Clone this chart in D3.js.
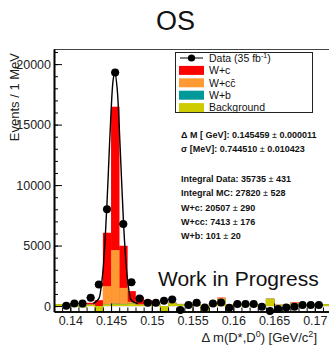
<!DOCTYPE html>
<html>
<head>
<meta charset="utf-8">
<script src="https://cdn.jsdelivr.net/npm/d3@7"></script>
<style>
   body { margin: 0; background: #fff; }
   svg { display: block; font-family: "Liberation Sans", Arial, Helvetica, sans-serif; }
</style>
</head>
<body>
<div class="visHolder"></div>
<script>
// bin centres of the 1 MeV histogram (GeV)
const binCenters = [0.1385, 0.1395, 0.1405, 0.1415, 0.1425, 0.1435, 0.1445, 0.1455, 0.1465, 0.1475,
   0.1485, 0.1495, 0.1505, 0.1515, 0.1525, 0.1535, 0.1545, 0.1555, 0.1565, 0.1575,
   0.1585, 0.1595, 0.1605, 0.1615, 0.1625, 0.1635, 0.1645, 0.1655, 0.1665, 0.1675,
   0.1685, 0.1695, 0.1705, 0.1715, 0.1725];

// stacked MC components, same bins
const background = [150, 150, 100, -100, 120, -500, 150, 150, 150, 200,
   100, 150, 150, -500, 250, 150, 50, 150, -420, 150,
   550, 100, 150, 150, 150, 100, 600, 100, 100, 220,
   100, 150, 150, 150, 150];
const wb = [0, 0, 0, 0, 0, 5, 20, 40, 25, 5,
   0, 0, 0, 0, 0, 0, 0, 0, 0, 0,
   0, 0, 0, 0, 0, 0, 0, 0, 0, 0,
   0, 0, 0, 0, 0];
const wcc = [0, 0, 0, 0, 0, 80, 1480, 4440, 1330, 150,
   50, 30, 0, 0, 0, 0, 0, 0, 0, 0,
   120, 0, 0, 0, 0, 0, 0, 0, 0, 60,
   0, 0, 0, 0, 0];
const wc = [0, 0, 0, 20, 150, 900, 4410, 11850, 3480, 880,
   620, 320, 150, 100, 40, 30, 10, 10, 10, 10,
   30, 10, 10, 10, 10, 10, 10, 10, 10, 30,
   10, 10, 10, 10, 10];

// data points (null where no marker)
const dataValues = [null, 30, 220, 220, 690, 1780, 8000, 19300, 6780, 1960,
   630, 270, 270, 440, 550, -330, 80, 270, -110, 220,
   300, -140, 165, 165, 165, -55, -410, -250, -110, -55,
   80, 80, 80, null, null];

// fitted curve
const fitX = [0.1428, 0.1435, 0.14375, 0.144, 0.14425, 0.1445, 0.14475, 0.145, 0.14525, 0.14546,
   0.14575, 0.146, 0.14625, 0.1465, 0.14675, 0.147, 0.14725, 0.1475, 0.1483];
const fitY = [200, 620, 1400, 2850, 5200, 8470, 12330, 16050, 18650, 19400,
   17970, 14900, 11040, 7310, 4330, 2290, 1080, 460, 200];

const legendLabels = ["Data (35 fb", "W+c", "W+cc\u0304", "W+b", "Background"];
const stackColors = ["#cccc00", "#009999", "#ff9933", "#ff0000"]; // background, W+b, W+cc, W+c
const legendColors = [null, "#ff0000", "#ff9933", "#009999", "#cccc00"];

const statLines = [
   ["\u0394 M [ GeV]: 0.145459", "0.000011"],
   ["\u03c3 [MeV]: 0.744510", "0.010423"],
   ["Integral Data: 35735", "431"],
   ["Integral MC: 27820", "528"],
   ["W+c: 20507", "290"],
   ["W+cc: 7413", "176"],
   ["W+b: 101", "20"]
];

const xTicks = [0.14, 0.145, 0.15, 0.155, 0.16, 0.165, 0.17];
const xMinorTicks = d3.range(138, 174).map(d => d / 1000);
const yTicks = [0, 5000, 10000, 15000, 20000];
const yMinorTicks = d3.range(0, 22000, 1000);

const fullWidth = 329;
const fullHeight = 345;
const plotLeft = 54;
const plotRight = 339.25;
const plotTop = 49;
const plotBottom = 311.5;
const halfBin = 0.0005;

const svg = d3.select(".visHolder")
   .append("svg")
   .attr("width", fullWidth)
   .attr("height", fullHeight);

const xScale = d3.scaleLinear()
   .domain([0.138, 0.173])
   .range([plotLeft, plotRight]);
const yScale = d3.scaleLinear()
   .domain([-450, 21250])
   .range([plotBottom, plotTop]);

svg.append("clipPath")
   .attr("id", "plotClip")
   .append("rect")
   .attr("x", plotLeft)
   .attr("y", plotTop)
   .attr("width", plotRight - plotLeft)
   .attr("height", plotBottom - plotTop);

const plot = svg.append("g").attr("clip-path", "url(#plotClip)");

// cumulative stack, drawn from the top sum down like THStack
const components = [background, wb, wcc, wc];
const cumulative = [];
components.forEach((comp, k) => {
   cumulative.push(comp.map((v, i) => v + (k > 0 ? cumulative[k - 1][i] : 0)));
});

for (let k = components.length - 1; k >= 0; k--) {
   plot.append("g")
      .selectAll("rect")
      .data(cumulative[k])
      .enter()
      .append("rect")
      .attr("x", (d, i) => xScale(binCenters[i] - halfBin))
      .attr("width", (d, i) => xScale(binCenters[i] + halfBin) - xScale(binCenters[i] - halfBin) + 0.3)
      .attr("y", d => Math.min(yScale(0), yScale(d)))
      .attr("height", d => Math.abs(yScale(0) - yScale(d)))
      .attr("fill", stackColors[k]);
}

// fit
const fitLine = d3.line()
   .x((d, i) => xScale(fitX[i]))
   .y(d => yScale(d))
   .curve(d3.curveCatmullRom.alpha(0.5));
plot.append("path")
   .attr("d", fitLine(fitY))
   .attr("fill", "none")
   .attr("stroke", "black")
   .attr("stroke-width", 1.4);

// data points
const points = binCenters.map((c, i) => ({ c: c, v: dataValues[i] })).filter(d => d.v !== null);
svg.append("g")
   .selectAll("line")
   .data(points)
   .enter()
   .append("line")
   .attr("x1", d => xScale(d.c - halfBin))
   .attr("x2", d => xScale(d.c + halfBin))
   .attr("y1", d => yScale(d.v))
   .attr("y2", d => yScale(d.v))
   .attr("stroke", "black")
   .attr("stroke-width", 1);
svg.append("g")
   .selectAll("circle")
   .data(points)
   .enter()
   .append("circle")
   .attr("cx", d => xScale(d.c))
   .attr("cy", d => yScale(d.v))
   .attr("r", 4)
   .attr("fill", "black");

// frame top
svg.append("line")
   .attr("x1", plotLeft)
   .attr("x2", fullWidth)
   .attr("y1", plotTop + 0.5)
   .attr("y2", plotTop + 0.5)
   .attr("stroke", "#444")
   .attr("stroke-width", 1);

// axes
const xMinor = d3.axisBottom(xScale).tickValues(xMinorTicks).tickSizeInner(-4).tickSizeOuter(0).tickFormat("");
const xAxis = d3.axisBottom(xScale).tickValues(xTicks).tickSizeInner(-8).tickSizeOuter(0).tickPadding(5)
   .tickFormat(d => String(+d.toFixed(3)));
const yMinor = d3.axisLeft(yScale).tickValues(yMinorTicks).tickSizeInner(-4).tickSizeOuter(0).tickFormat("");
const yAxis = d3.axisLeft(yScale).tickValues(yTicks).tickSizeInner(-8).tickSizeOuter(0).tickPadding(3)
   .tickFormat(d3.format("d"));

svg.append("g").attr("transform", "translate(0," + plotBottom + ")").call(xMinor);
const gx = svg.append("g").attr("transform", "translate(0," + plotBottom + ")").call(xAxis);
svg.append("g").attr("transform", "translate(" + plotLeft + ",0)").call(yMinor);
const gy = svg.append("g").attr("transform", "translate(" + plotLeft + ",0)").call(yAxis);

svg.selectAll(".domain").attr("stroke", "black").attr("stroke-width", 1.6);
svg.selectAll(".tick line").attr("stroke", "black").attr("stroke-width", 1);
[gx, gy].forEach(g => g.selectAll("text")
   .attr("fill", "#222")
   .style("font-size", "12.5px")
   .style("font-family", "'Liberation Sans', Arial, sans-serif"));

// title and axis titles
svg.append("text")
   .attr("x", 175.5)
   .attr("y", 30)
   .attr("text-anchor", "middle")
   .style("font-size", "27px")
   .attr("fill", "#111")
   .text("OS");

svg.append("text")
   .attr("transform", "translate(19,53) rotate(-90)")
   .attr("text-anchor", "end")
   .style("font-size", "13px")
   .attr("fill", "#222")
   .text("Events / 1 MeV");

const xTitle = svg.append("text")
   .attr("x", 317)
   .attr("y", 342)
   .attr("text-anchor", "end")
   .style("font-size", "13px")
   .attr("fill", "#222");
xTitle.append("tspan").text("\u0394 m(D*,D");
xTitle.append("tspan").attr("dy", -5).style("font-size", "9px").text("0");
xTitle.append("tspan").attr("dy", 5).text(") [GeV/c");
xTitle.append("tspan").attr("dy", -5).style("font-size", "9px").text("2");
xTitle.append("tspan").attr("dy", 5).text("]");

// legend
const legend = svg.append("g");
legend.append("rect")
   .attr("x", 175.5)
   .attr("y", 52.5)
   .attr("width", 137)
   .attr("height", 60)
   .attr("fill", "white")
   .attr("stroke", "#222")
   .attr("stroke-width", 1);
const rows = legend.selectAll("g.row")
   .data(legendLabels)
   .enter()
   .append("g")
   .attr("class", "row")
   .attr("transform", (d, i) => "translate(0," + (58 + i * 12.4) + ")");
rows.each(function (d, i) {
   const row = d3.select(this);
   if (legendColors[i] === null) {
      row.append("line").attr("x1", 180).attr("x2", 203).attr("y1", 0).attr("y2", 0)
         .attr("stroke", "black").attr("stroke-width", 1);
      row.append("circle").attr("cx", 191.5).attr("cy", 0).attr("r", 3.6).attr("fill", "black");
   } else {
      row.append("rect").attr("x", 179).attr("y", -4.5).attr("width", 25).attr("height", 9)
         .attr("fill", legendColors[i]);
   }
   const t = row.append("text")
      .attr("x", 209)
      .attr("y", 0)
      .attr("dy", "0.36em")
      .style("font-size", "10.5px")
      .attr("fill", "#111")
      .text(d);
   if (i === 0) {
      t.append("tspan").attr("dy", -4).style("font-size", "7px").text("-1");
      t.append("tspan").attr("dy", 4).text(")");
   }
});

// fit summary
const statY = [138.3, 152.3, 182, 196.3, 210.6, 225, 239.4];
statLines.forEach((line, i) => {
   const t = svg.append("text")
      .attr("x", 181)
      .attr("y", statY[i])
      .style("font-size", "9px")
      .style("font-weight", "bold")
      .attr("fill", "#111");
   t.append("tspan").text(line[0]);
   t.append("tspan").style("font-weight", "normal").text(" \u00b1 ");
   t.append("tspan").text(line[1]);
});

svg.append("text")
   .attr("x", 158)
   .attr("y", 286)
   .style("font-size", "21px")
   .attr("fill", "#111")
   .text("Work in Progress");
</script>
</body>
</html>
